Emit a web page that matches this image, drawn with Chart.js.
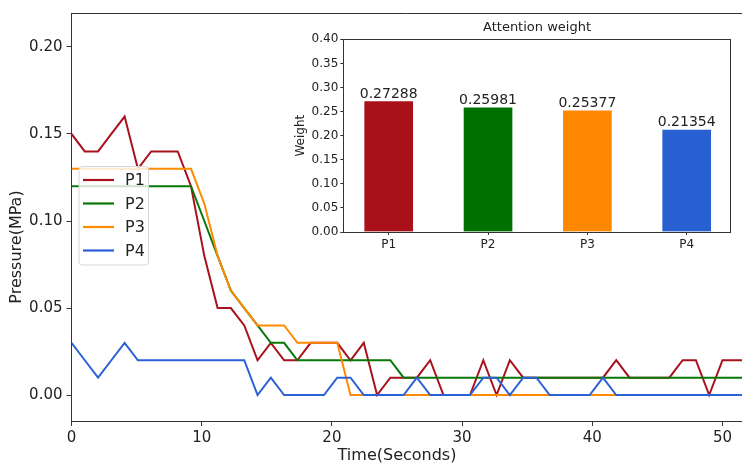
<!DOCTYPE html>
<html><head><meta charset="utf-8">
<script src="https://cdn.jsdelivr.net/npm/chart.js@4.4.1/dist/chart.umd.min.js"></script>
<style>
html,body{margin:0;padding:0;background:#fff;}
#wrap{position:relative;width:742px;height:465px;overflow:hidden;background:#fff;}
#main{position:absolute;left:0;top:0;}
#inset{position:absolute;left:290px;top:13px;}
</style></head><body>
<div id="wrap"><canvas id="main" width="742" height="465"></canvas><canvas id="inset" width="452" height="252"></canvas></div>
<script>
// ---- data ----
const times = [0,1.02,2.04,3.06,4.08,5.10,6.12,7.14,8.16,9.18,
  10.20,11.22,12.24,13.27,14.29,15.31,16.33,17.35,18.37,19.39,
  20.41,21.43,22.45,23.47,24.49,25.51,26.53,27.55,28.57,29.59,
  30.61,31.63,32.65,33.67,34.69,35.71,36.73,37.76,38.78,39.80,
  40.82,41.84,42.86,43.88,44.90,45.92,46.94,47.96,48.98,50.00,
  51.02,52.04];
const seriesNames = ['P1','P2','P3','P4'];
const p1 = [0.15,0.14,0.14,0.15,0.16,0.13,0.14,0.14,0.14,0.12,
  0.08,0.05,0.05,0.04,0.02,0.03,0.02,0.02,0.03,0.03,
  0.03,0.02,0.03,0.00,0.01,0.01,0.01,0.02,0.00,0.00,
  0.00,0.02,0.00,0.02,0.01,0.01,0.01,0.01,0.01,0.01,
  0.01,0.02,0.01,0.01,0.01,0.01,0.02,0.02,0.00,0.02,
  0.02,0.02];
const p2 = [0.12,0.12,0.12,0.12,0.12,0.12,0.12,0.12,0.12,0.12,
  0.10,0.08,0.06,0.05,0.04,0.03,0.03,0.02,0.02,0.02,
  0.02,0.02,0.02,0.02,0.02,0.01,0.01,0.01,0.01,0.01,
  0.01,0.01,0.01,0.01,0.01,0.01,0.01,0.01,0.01,0.01,
  0.01,0.01,0.01,0.01,0.01,0.01,0.01,0.01,0.01,0.01,
  0.01,0.01];
const p3 = [0.13,0.13,0.13,0.13,0.13,0.13,0.13,0.13,0.13,0.13,
  0.11,0.08,0.06,0.05,0.04,0.04,0.04,0.03,0.03,0.03,
  0.03,0.00,0.00,0.00,0.00,0.00,0.00,0.00,0.00,0.00,
  0.00,0.00,0.00,0.00,0.00,0.00,0.00,0.00,0.00,0.00,
  0.00,0.00,0.00,0.00,0.00,0.00,0.00,0.00,0.00,0.00,
  0.00,0.00];
const p4 = [0.03,0.02,0.01,0.02,0.03,0.02,0.02,0.02,0.02,0.02,
  0.02,0.02,0.02,0.02,0.00,0.01,0.00,0.00,0.00,0.00,
  0.01,0.01,0.00,0.00,0.00,0.00,0.01,0.00,0.00,0.00,
  0.00,0.01,0.01,0.00,0.01,0.01,0.00,0.00,0.00,0.00,
  0.01,0.00,0.00,0.00,0.00,0.00,0.00,0.00,0.00,0.00,
  0.00,0.00];
const xTicks = [0,10,20,30,40,50];
const yTicks = [0,0.05,0.10,0.15,0.20];
const weightCategories = ['P1','P2','P3','P4'];
const weights = [0.27288,0.25981,0.25377,0.21354];
const weightTicks = [0,0.05,0.10,0.15,0.20,0.25,0.30,0.35,0.40];

// ---- styles ----
const COLORS = ['#A8121C','#087808','#FF8A00','#2A62D6'];
const BAR_COLORS = ['#A8101A','#007000','#FF8800','#2860D2'];
const F = '"DejaVu Sans", Roboto, sans-serif';
const INK = '#222';
const AX = '#333';
Chart.defaults.font.family = F;
Chart.defaults.color = INK;

const series = [p1,p2,p3,p4];

const mainDeco = {
  id:'mainDeco',
  afterDraw(chart){
    const {ctx, chartArea:a} = chart;
    ctx.save();
    ctx.strokeStyle = AX; ctx.lineWidth = 1;
    ctx.beginPath(); ctx.moveTo(a.left, a.top+0.5); ctx.lineTo(a.right, a.top+0.5); ctx.stroke();
    ctx.fillStyle = INK;
    ctx.font = '16px ' + F;
    ctx.textAlign = 'center'; ctx.textBaseline = 'middle';
    ctx.fillText('Time(Seconds)', 397, 456);
    ctx.translate(17, 247); ctx.rotate(-Math.PI/2);
    ctx.fillText('Pressure(MPa)', 0, 0);
    ctx.restore();
    ctx.save();
    const lx=79, ly=166.5, lw=69.5, lh=98.5, r=3;
    ctx.beginPath();
    ctx.moveTo(lx+r,ly); ctx.lineTo(lx+lw-r,ly); ctx.quadraticCurveTo(lx+lw,ly,lx+lw,ly+r);
    ctx.lineTo(lx+lw,ly+lh-r); ctx.quadraticCurveTo(lx+lw,ly+lh,lx+lw-r,ly+lh);
    ctx.lineTo(lx+r,ly+lh); ctx.quadraticCurveTo(lx,ly+lh,lx,ly+lh-r);
    ctx.lineTo(lx,ly+r); ctx.quadraticCurveTo(lx,ly,lx+r,ly); ctx.closePath();
    ctx.fillStyle='rgba(255,255,255,0.8)'; ctx.fill();
    ctx.strokeStyle='#d6d6d6'; ctx.lineWidth=1; ctx.stroke();
    const ys=[180,203.5,227,250.5];
    ctx.font = '16px ' + F; ctx.textAlign='left'; ctx.textBaseline='middle';
    seriesNames.forEach((n,i)=>{
      ctx.strokeStyle=COLORS[i]; ctx.lineWidth=2.2;
      ctx.beginPath(); ctx.moveTo(83,ys[i]); ctx.lineTo(114,ys[i]); ctx.stroke();
      ctx.fillStyle=INK; ctx.fillText(n,125,ys[i]+1);
    });
    ctx.restore();
  }
};

new Chart(document.getElementById('main'), {
  type:'line',
  data:{datasets: seriesNames.map((n,i)=>({
    label:n,
    data: times.map((t,j)=>({x:t,y:series[i][j]})),
    borderColor:COLORS[i], backgroundColor:COLORS[i],
    borderWidth:2, pointRadius:0, tension:0, fill:false,
    order: 4-i
  }))},
  options:{
    responsive:false, animation:false,
    layout:{padding:{top:12,right:0,left:0,bottom:0}},
    plugins:{legend:{display:false}, tooltip:{enabled:false}},
    scales:{
      x:{type:'linear', min:0, max:51.5,
        afterBuildTicks:s=>{s.ticks = xTicks.map(v=>({value:v}));},
        afterFit:s=>{s.height=44;},
        grid:{drawOnChartArea:false, drawTicks:true, tickLength:5, color:AX},
        border:{display:true, color:AX, width:1},
        ticks:{font:{size:15}, color:INK, padding:3, maxRotation:0, autoSkip:false, callback:v=>String(v)}
      },
      y:{type:'linear', min:-0.0149, max:0.2195,
        afterBuildTicks:s=>{s.ticks = yTicks.map(v=>({value:v}));},
        afterFit:s=>{s.width=71.5;},
        grid:{drawOnChartArea:false, drawTicks:true, tickLength:5, color:AX},
        border:{display:true, color:AX, width:1},
        ticks:{font:{size:15}, color:INK, padding:4, callback:v=>Number(v).toFixed(2)}
      }
    }
  },
  plugins:[mainDeco]
});

const insetDeco = {
  id:'insetDeco',
  afterDatasetsDraw(chart){
    const {ctx} = chart;
    const meta = chart.getDatasetMeta(0);
    ctx.save();
    ctx.fillStyle = INK; ctx.font='14px '+F; ctx.textAlign='center'; ctx.textBaseline='alphabetic';
    meta.data.forEach((bar,i)=>{ ctx.fillText(weights[i].toFixed(5), bar.x, bar.y-3); });
    ctx.restore();
  },
  afterDraw(chart){
    const {ctx, chartArea:a} = chart;
    ctx.save(); ctx.strokeStyle=AX; ctx.lineWidth=1;
    ctx.strokeRect(Math.round(a.left)+0.5, Math.round(a.top)+0.5, Math.round(a.right-a.left), Math.round(a.bottom-a.top));
    ctx.restore();
  }
};

new Chart(document.getElementById('inset'), {
  type:'bar',
  data:{datasets:[{
    label:'Weight',
    data: weights.map((w,i)=>({x:i,y:w})),
    backgroundColor: BAR_COLORS,
    borderColor:'rgba(255,255,255,0.6)', borderWidth:1,
    barThickness:50
  }]},
  options:{
    responsive:false, animation:false,
    layout:{padding:{top:0,right:11.3,left:0,bottom:0}},
    plugins:{legend:{display:false}, tooltip:{enabled:false},
      title:{display:true, text:'Attention weight', fullSize:false, color:INK, font:{size:13, weight:'normal'}, padding:{top:6.5,bottom:4.2}}},
    scales:{
      x:{type:'linear', min:-0.457, max:3.443, offset:false,
        afterBuildTicks:s=>{s.ticks = weightCategories.map((c,i)=>({value:i}));},
        afterFit:s=>{s.height=33;},
        grid:{offset:false, drawOnChartArea:false, drawTicks:true, tickLength:3, color:AX},
        border:{display:true, color:AX, width:1},
        ticks:{font:{size:12}, color:INK, padding:3, maxRotation:0, autoSkip:false, callback:v=>weightCategories[v]}
      },
      y:{type:'linear', min:0, max:0.4,
        afterBuildTicks:s=>{s.ticks = weightTicks.map(v=>({value:v}));},
        afterFit:s=>{s.width=53.3;},
        grid:{drawOnChartArea:false, drawTicks:true, tickLength:3, color:AX},
        border:{display:true, color:AX, width:1},
        title:{display:true, text:'Weight', color:INK, font:{size:12}},
        ticks:{font:{size:12}, color:INK, padding:2, callback:v=>Number(v).toFixed(2)}
      }
    }
  },
  plugins:[insetDeco]
});
</script>
</body></html>
